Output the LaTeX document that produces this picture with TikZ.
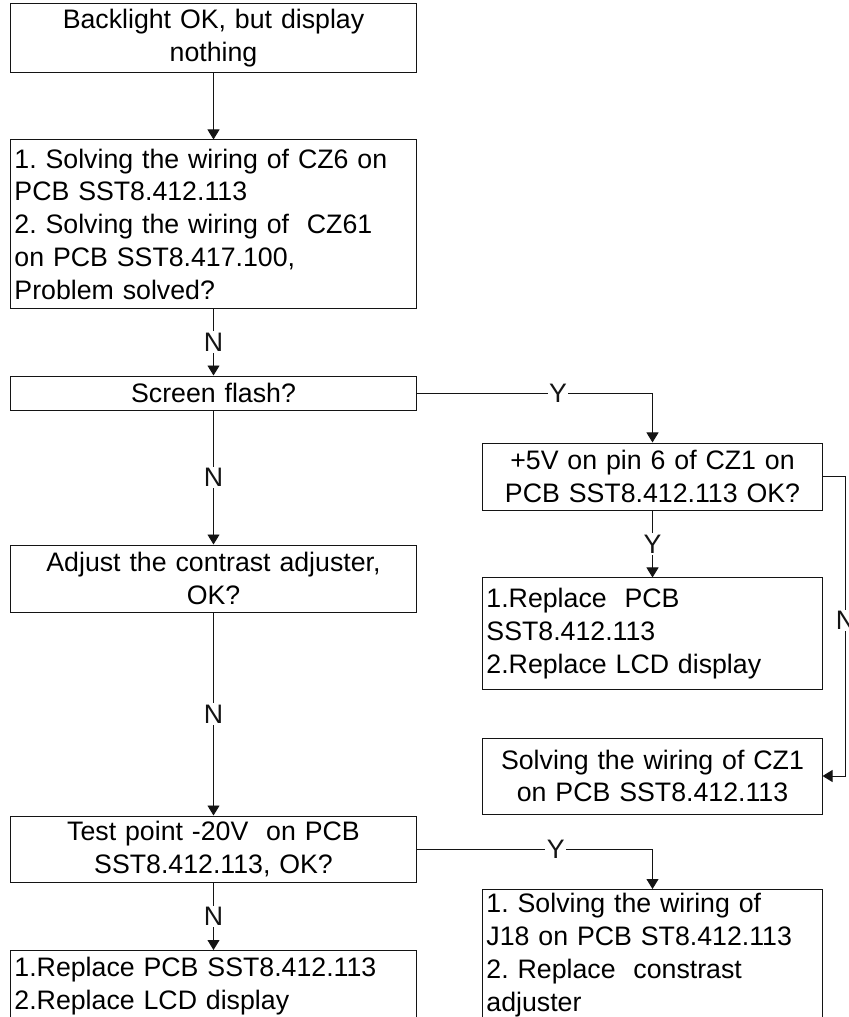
\documentclass[tikz,border=0pt]{standalone}
\usepackage{fontspec}
\setmainfont{Liberation Sans}
\frenchspacing
\usetikzlibrary{arrows.meta,positioning}
\definecolor{ink}{RGB}{20,20,20}
\tikzset{
  box/.style={draw=ink,line width=0.7pt,inner xsep=0.075cm,inner ysep=0.1cm,align=center,
    font=\fontsize{19}{23.3}\selectfont,minimum width=10.125cm,text width=9.95cm},
  listbox/.style={box,align=left},
  rbox/.style={box,minimum width=8.475cm,text width=8.3cm},
  rlistbox/.style={rbox,align=left},
  flow/.style={-{Triangle[length=0.25cm,width=0.3cm]},ink,line width=0.7pt},
  tag/.style={fill=white,inner sep=1pt,font=\fontsize{19}{23.3}\selectfont},
}
\begin{document}
\begin{tikzpicture}[x=0.025cm,y=-0.025cm]
\useasboundingbox (0,0) rectangle (848,1017);
% left column
\node[box,minimum height=1.7cm] (start) at (213.5,38) {Backlight OK, but display\\nothing};
\node[listbox,minimum height=4.2cm] (wiring) at (213.5,224)
  {1. Solving the wiring of CZ6 on\\PCB SST8.412.113\\2. Solving the wiring of \ CZ61\\on PCB SST8.417.100,\\Problem solved?};
\node[box,minimum height=0.85cm] (flash) at (213.5,393) {Screen flash?};
\node[box,minimum height=1.675cm] (contrast) at (213.5,578.5) {Adjust the contrast adjuster,\\OK?};
\node[box,minimum height=1.65cm] (testpt) at (213.5,849) {Test point -20V \ on PCB\\SST8.412.113, OK?};
\node[listbox,anchor=north,inner ysep=0.16cm] (replL) at (213.5,950)
  {1.Replace PCB SST8.412.113\\2.Replace LCD display};
% right column
\node[rbox,minimum height=1.675cm] (pin6) at (652.5,476.5) {+5V on pin 6 of CZ1 on\\PCB SST8.412.113 OK?};
\node[rlistbox,minimum height=2.775cm] (replR) at (652.5,633.5)
  {1.Replace \ PCB\\SST8.412.113\\2.Replace LCD display};
\node[rbox,minimum height=1.9cm] (cz1) at (652.5,776) {Solving the wiring of CZ1\\on PCB SST8.412.113};
\node[rlistbox,anchor=north] (j18) at (652.5,889)
  {1. Solving the wiring of\\J18 on PCB ST8.412.113\\2. Replace \ constrast\\adjuster};
% connectors
\draw[flow] (start) -- (wiring);
\draw[flow] (wiring) -- node[tag]{N} (flash);
\draw[flow] (flash.east) -| node[tag,pos=0.3]{Y} (pin6.north);
\draw[flow] (flash) -- node[tag]{N} (contrast);
\draw[flow] (pin6) -- node[tag]{Y} (replR);
\draw[flow] (pin6.east) -- ++(0.575cm,0) |- node[tag,pos=0.24]{N} (cz1.east);
\draw[flow] (contrast) -- node[tag]{N} (testpt);
\draw[flow] (testpt.east) -| node[tag,pos=0.295]{Y} (j18.north);
\draw[flow] (testpt) -- node[tag]{N} (replL);
\end{tikzpicture}
\end{document}
